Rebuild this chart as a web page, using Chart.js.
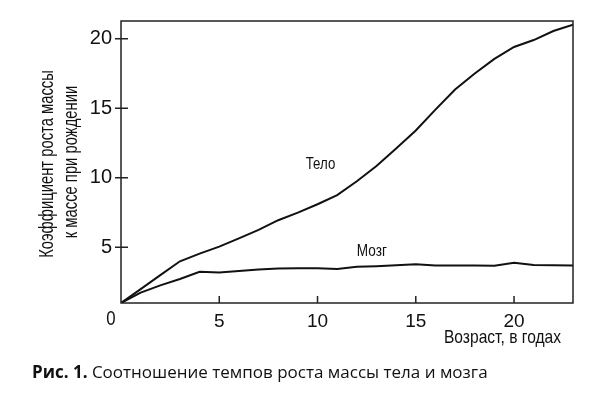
<!DOCTYPE html>
<html>
<head>
<meta charset="utf-8">
<script src="https://cdn.jsdelivr.net/npm/chart.js@4.4.1/dist/chart.umd.min.js"></script>
<style>
  html, body { margin: 0; padding: 0; background: #fff; }
</style>
</head>
<body>
<canvas id="growthChart" width="600" height="394"></canvas>
<script>
// возраст, годы
const ages = [0, 1, 2, 3, 4, 5, 6, 7, 8, 9, 10, 11, 12, 13, 14, 15, 16, 17, 18, 19, 20, 21, 22, 23];
// коэффициент роста массы тела
const bodyValues = [1.0, 2.0, 3.0, 4.0, 4.55, 5.05, 5.65, 6.25, 6.95, 7.5, 8.1, 8.75, 9.75, 10.85, 12.1, 13.4, 14.9, 16.35, 17.5, 18.55, 19.4, 19.9, 20.55, 21.0];
// коэффициент роста массы мозга
const brainValues = [1.0, 1.75, 2.27, 2.73, 3.25, 3.2, 3.3, 3.4, 3.48, 3.5, 3.5, 3.45, 3.6, 3.65, 3.72, 3.78, 3.7, 3.7, 3.69, 3.67, 3.89, 3.73, 3.71, 3.7];
const xTickValues = [5, 10, 15, 20];
const yTickValues = [5, 10, 15, 20];

const sans = "'Liberation Sans', Arial, sans-serif";
const ink = '#111';

const toPoints = (vals) => ages.map((a, i) => ({ x: a, y: vals[i] }));

// текст узким начертанием (сжатие по горизонтали)
function narrowText(ctx, text, x, y, size, align, squeeze, rotate) {
  ctx.save();
  ctx.translate(x, y);
  if (rotate) ctx.rotate(rotate);
  ctx.scale(squeeze, 1);
  ctx.font = size + 'px ' + sans;
  ctx.textAlign = align;
  ctx.fillText(text, 0, 0);
  ctx.restore();
}

// рамка, засечки, подписи осей и кривых, подрисуночная подпись
const extras = {
  id: 'extras',
  afterDraw(chart) {
    const { ctx, chartArea: area, scales: { x, y } } = chart;
    ctx.save();
    ctx.strokeStyle = '#222';
    ctx.lineWidth = 1.5;
    ctx.strokeRect(area.left, area.top, area.right - area.left, area.bottom - area.top);

    ctx.beginPath();
    yTickValues.forEach(v => {
      const py = y.getPixelForValue(v);
      ctx.moveTo(area.left - 6, py);
      ctx.lineTo(area.left + 7, py);
    });
    xTickValues.forEach(v => {
      const px = x.getPixelForValue(v);
      ctx.moveTo(px, area.bottom);
      ctx.lineTo(px, area.bottom - 7);
    });
    ctx.stroke();

    ctx.fillStyle = ink;
    ctx.textBaseline = 'alphabetic';
    narrowText(ctx, '0', x.getPixelForValue(0) - 10, area.bottom + 22, 21, 'center', 0.8);
    narrowText(ctx, 'Возраст, в годах', area.right - 12, area.bottom + 40, 19, 'right', 0.82);

    // заголовок оси Y в две строки
    ctx.textBaseline = 'middle';
    narrowText(ctx, 'Коэффициент роста массы', 47, 164, 20, 'center', 0.74, -Math.PI / 2);
    narrowText(ctx, 'к массе при рождении', 71, 162, 20, 'center', 0.74, -Math.PI / 2);

    ctx.textBaseline = 'alphabetic';
    narrowText(ctx, 'Тело', x.getPixelForValue(9.4), y.getPixelForValue(10.6), 17, 'left', 0.78);
    narrowText(ctx, 'Мозг', x.getPixelForValue(12), y.getPixelForValue(4.38), 17, 'left', 0.8);

    const capX = 32, capY = 378;
    ctx.font = 'bold 17px "Open Sans", "Noto Sans", sans-serif';
    ctx.textAlign = 'left';
    const head = 'Рис. 1.';
    ctx.fillText(head, capX, capY);
    const w = ctx.measureText(head).width;
    ctx.font = '17px "Open Sans", "Noto Sans", sans-serif';
    ctx.fillText(' Соотношение темпов роста массы тела и мозга', capX + w, capY);
    ctx.restore();
  }
};

new Chart(document.getElementById('growthChart'), {
  type: 'line',
  data: {
    datasets: [
      { label: 'Тело', data: toPoints(bodyValues), borderColor: ink, borderWidth: 2, pointRadius: 0, tension: 0, fill: false },
      { label: 'Мозг', data: toPoints(brainValues), borderColor: ink, borderWidth: 2, pointRadius: 0, tension: 0, fill: false }
    ]
  },
  options: {
    responsive: false,
    animation: false,
    devicePixelRatio: 1,
    layout: { padding: { left: 0, right: 27, top: 15, bottom: 0 } },
    plugins: { legend: { display: false }, tooltip: { enabled: false } },
    scales: {
      x: {
        type: 'linear',
        min: 0,
        max: 23,
        afterBuildTicks: (s) => { s.ticks = xTickValues.map(v => ({ value: v })); },
        afterFit: (s) => { s.height = 91; },
        grid: { display: false, drawTicks: false },
        border: { display: false },
        ticks: { color: ink, padding: 7, maxRotation: 0, font: { family: sans, size: 19 } }
      },
      y: {
        type: 'linear',
        min: 1,
        max: 21.27,
        afterBuildTicks: (s) => { s.ticks = yTickValues.map(v => ({ value: v })); },
        afterFit: (s) => { s.width = 121; },
        grid: { display: false, drawTicks: false },
        border: { display: false },
        ticks: { color: ink, padding: 9, font: { family: sans, size: 20 } }
      }
    }
  },
  plugins: [extras]
});
</script>
</body>
</html>
